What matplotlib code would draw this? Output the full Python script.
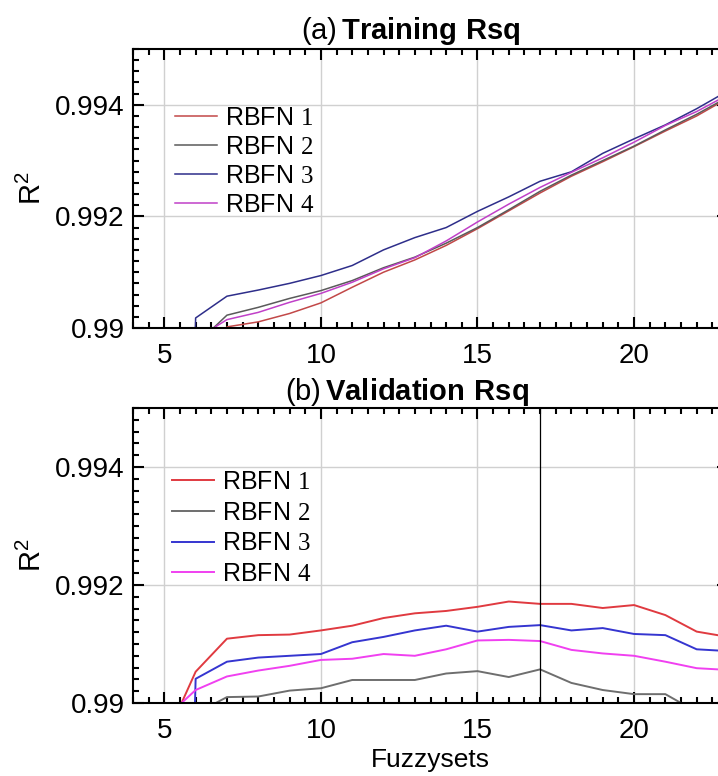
import matplotlib
matplotlib.use('Agg')
import matplotlib.pyplot as plt
from matplotlib.ticker import MultipleLocator

plt.rcParams['font.family'] = ['Liberation Sans', 'DejaVu Sans']
plt.rcParams['mathtext.fontset'] = 'custom'
plt.rcParams['mathtext.rm'] = 'Liberation Serif'
plt.rcParams['mathtext.sf'] = 'Liberation Sans'
plt.rcParams['mathtext.bf'] = 'Liberation Sans:bold'

# Fuzzy sets on the x axis
fuzzysets = [5, 6, 7, 8, 9, 10, 11, 12, 13, 14, 15, 16, 17, 18, 19, 20, 21, 22, 23]

# (a) training R^2 (first points fall below the axis)
train_rbfn1 = [0.9870, 0.98850, 0.99002, 0.99011, 0.99026, 0.99045, 0.99073, 0.99100, 0.99122,
               0.99148, 0.99178, 0.99210, 0.99242, 0.99272, 0.99298, 0.99325, 0.99353, 0.99380, 0.99412]
train_rbfn2 = [0.9880, 0.98970, 0.99023, 0.99037, 0.99053, 0.99067, 0.99085, 0.99108, 0.99127,
               0.99152, 0.99180, 0.99212, 0.99245, 0.99274, 0.99300, 0.99326, 0.99355, 0.99383, 0.99414]
train_rbfn3 = [0.9700, 0.99018, 0.99057, 0.99068, 0.99080, 0.99094, 0.99112, 0.99140, 0.99162,
               0.99180, 0.99209, 0.99235, 0.99263, 0.99280, 0.99313, 0.99339, 0.99364, 0.99393, 0.99425]
train_rbfn4 = [0.9880, 0.98980, 0.99015, 0.99028, 0.99046, 0.99062, 0.99082, 0.99106, 0.99126,
               0.99156, 0.99190, 0.99222, 0.99252, 0.99279, 0.99305, 0.99333, 0.99363, 0.99388, 0.99418]

# (b) validation R^2
valid_rbfn1 = [0.98935, 0.99053, 0.99109, 0.99115, 0.99116, 0.99123, 0.99131, 0.99144, 0.99152,
               0.99156, 0.99163, 0.99172, 0.99168, 0.99168, 0.99161, 0.99166, 0.99149, 0.99121, 0.99112]
valid_rbfn2 = [0.9870, 0.98982, 0.99010, 0.99011, 0.99021, 0.99025, 0.99039, 0.99039, 0.99039,
               0.99050, 0.99054, 0.99044, 0.99057, 0.99034, 0.99022, 0.99015, 0.99015, 0.98985, 0.98980]
valid_rbfn3 = [0.9700, 0.99041, 0.99070, 0.99077, 0.99080, 0.99083, 0.99103, 0.99112, 0.99123,
               0.99131, 0.99121, 0.99129, 0.99132, 0.99123, 0.99127, 0.99117, 0.99115, 0.99091, 0.99088]
valid_rbfn4 = [0.98973, 0.99022, 0.99045, 0.99055, 0.99063, 0.99073, 0.99075, 0.99083, 0.99080,
               0.99091, 0.99106, 0.99107, 0.99105, 0.99090, 0.99084, 0.99080, 0.99070, 0.99059, 0.99056]

labels = [r'RBFN $\mathrm{1}$', r'RBFN $\mathrm{2}$', r'RBFN $\mathrm{3}$', r'RBFN $\mathrm{4}$']
train_colors = ['#c24848', '#5a5a5a', '#2e2e8a', '#c040c8']
valid_colors = ['#e03a40', '#6e6e6e', '#3535d0', '#f040f0']
best_sets = 17

fig = plt.figure(figsize=(7.18, 7.76), dpi=100)
W, H = 718.0, 776.0
ax1 = fig.add_axes([133 / W, (H - 328) / H, 595 / W, 279 / H])
ax2 = fig.add_axes([133 / W, (H - 703) / H, 595 / W, 295 / H])


def style_axes(ax):
    ax.set_xlim(4, 23)
    ax.set_ylim(0.99, 0.995)
    ax.set_xticks([5, 10, 15, 20])
    ax.set_yticks([0.99, 0.992, 0.994])
    ax.set_yticklabels(['0.99', '0.992', '0.994'])
    ax.xaxis.set_minor_locator(MultipleLocator(0.5))
    ax.yaxis.set_minor_locator(MultipleLocator(0.0002))
    ax.tick_params(which='both', direction='in', top=True, right=True, width=1.5,
                   labelsize=20)
    ax.tick_params(which='major', length=8)
    ax.tick_params(which='minor', length=4)
    ax.tick_params(axis='x', which='major', pad=11)
    ax.tick_params(axis='y', which='major', pad=6)
    ax.grid(True, which='major', color='#d0d0d0', linewidth=1)
    ax.set_axisbelow(True)
    for s in ax.spines.values():
        s.set_linewidth(1.5)
    ax.set_ylabel(r'R$^{\mathsf{2}}$', fontsize=21, labelpad=6)


series_a = [train_rbfn1, train_rbfn2, train_rbfn3, train_rbfn4]
for vals, c, lab in zip(series_a, train_colors, labels):
    ax1.plot(fuzzysets, vals, color=c, linewidth=1.1, label=lab)
style_axes(ax1)
ax1.set_title(r'(a)$\,\mathbf{Training\ Rsq}$', fontsize=21, x=0.467, pad=7)
ax1.legend(loc='upper left', bbox_to_anchor=(0.07, 0.795), frameon=False, fontsize=18,
           borderpad=0, borderaxespad=0, handlelength=1.7, handletextpad=0.3,
           labelspacing=0.2)

series_b = [valid_rbfn1, valid_rbfn2, valid_rbfn3, valid_rbfn4]
for vals, c, lab in zip(series_b, valid_colors, labels):
    ax2.plot(fuzzysets, vals, color=c, linewidth=1.4, label=lab)
ax2.axvline(best_sets, color='black', linewidth=0.9)
style_axes(ax2)
ax2.set_title(r'(b)$\,\mathbf{Validation\ Rsq}$', fontsize=21, x=0.46, pad=5)
ax2.set_xlabel('Fuzzysets', fontsize=19, labelpad=3)
ax2.legend(loc='upper left', bbox_to_anchor=(0.065, 0.79), frameon=False, fontsize=18,
           borderpad=0, borderaxespad=0, handlelength=1.7, handletextpad=0.3,
           labelspacing=0.27)

fig.savefig('out.png', dpi=100)
